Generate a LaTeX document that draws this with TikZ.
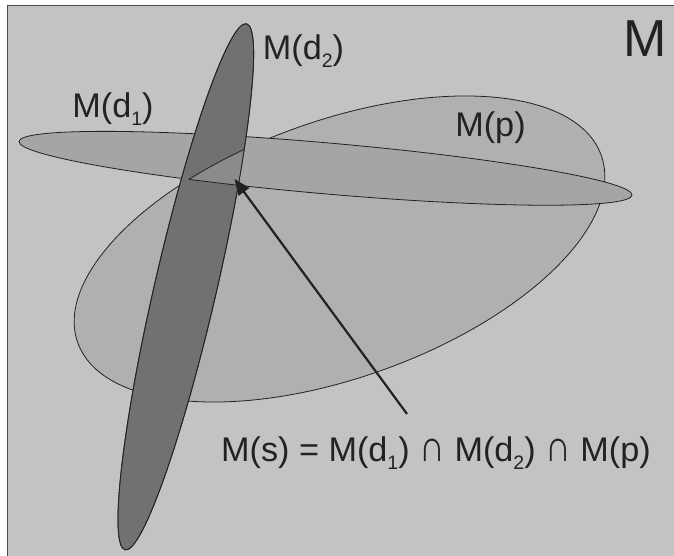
\documentclass[tikz,border=0pt]{standalone}
\usepackage{fontspec}
\setmainfont{Liberation Sans}
\usepackage{tikz}
\usetikzlibrary{arrows.meta}
\definecolor{framegray}{RGB}{195,195,195}
\definecolor{ppale}{RGB}{176,176,176}
\definecolor{donepale}{RGB}{165,165,165}
\definecolor{dtwodark}{RGB}{113,113,113}
\definecolor{smid}{RGB}{139,139,139}
\definecolor{inkgray}{RGB}{34,34,34}
\newcommand{\lowix}[1]{\raisebox{-0.24em}{\fontsize{19.5}{19.5}\selectfont #1}}
\newcommand{\capsign}{\scalebox{1.05}[1.3]{∩}}

\begin{document}
\begin{tikzpicture}[>={Triangle[length=16pt,width=13pt]},x=1pt,y=-1pt,
  every node/.style={anchor=base,inner sep=0pt,text=inkgray,font=\fontsize{34.2}{40}\selectfont},
  region/.style={draw=inkgray,line width=0.8pt}]
  \useasboundingbox (0,0) rectangle (674,556);
  \draw[fill=framegray,draw=gray!60!black,line width=1pt] (7,6) rectangle (690,570);
  \coordinate (pc) at (339.5,249);
  \coordinate (donec) at (325.5,168.3);
  \coordinate (dtwoc) at (185.8,286.8);
  \path[region,fill=ppale,rotate around={19.7:(pc)}] (pc) ellipse[x radius=278,y radius=128.5];
  \path[region,fill=donepale,rotate around={-5:(donec)}] (donec) ellipse[x radius=307.7,y radius=25.5];
  \path[region,fill=dtwodark,rotate around={77:(dtwoc)}] (dtwoc) ellipse[x radius=270,y radius=31];
  \begin{scope}
    \clip[rotate around={77:(dtwoc)}] (dtwoc) ellipse[x radius=270,y radius=31];
    \clip[rotate around={-5:(donec)}] (donec) ellipse[x radius=307.7,y radius=25.5];
    \path[region,fill=smid,rotate around={19.7:(pc)}] (pc) ellipse[x radius=278,y radius=128.5];
  \end{scope}
  \begin{scope}
    \clip[rotate around={77:(dtwoc)}] (dtwoc) ellipse[x radius=270,y radius=31];
    \clip[rotate around={19.7:(pc)}] (pc) ellipse[x radius=278,y radius=128.5];
    \draw[region,rotate around={-5:(donec)}] (donec) ellipse[x radius=307.7,y radius=25.5];
  \end{scope}
  \draw[region,rotate around={77:(dtwoc)}] (dtwoc) ellipse[x radius=270,y radius=31];
  \node[font=\fontsize{52}{60}\selectfont] (space) at (645,57) {M};
  \node (dtwolab) at (303.5,59.3) {M(d\lowix{2})};
  \node (donelab) at (113,117.3) {M(d\lowix{1})};
  \node (plab) at (490.5,136.7) {M(p)};
  \node (slab) at (436,461.5) {M(s) = M(d\lowix{1}) \capsign{} M(d\lowix{2}) \capsign{} M(p)};
  \coordinate (tail) at (407,414);
  \coordinate (tip) at (234.5,179);
  \draw[->,line width=2.2pt,inkgray] (tail) -- (tip);
\end{tikzpicture}
\end{document}
